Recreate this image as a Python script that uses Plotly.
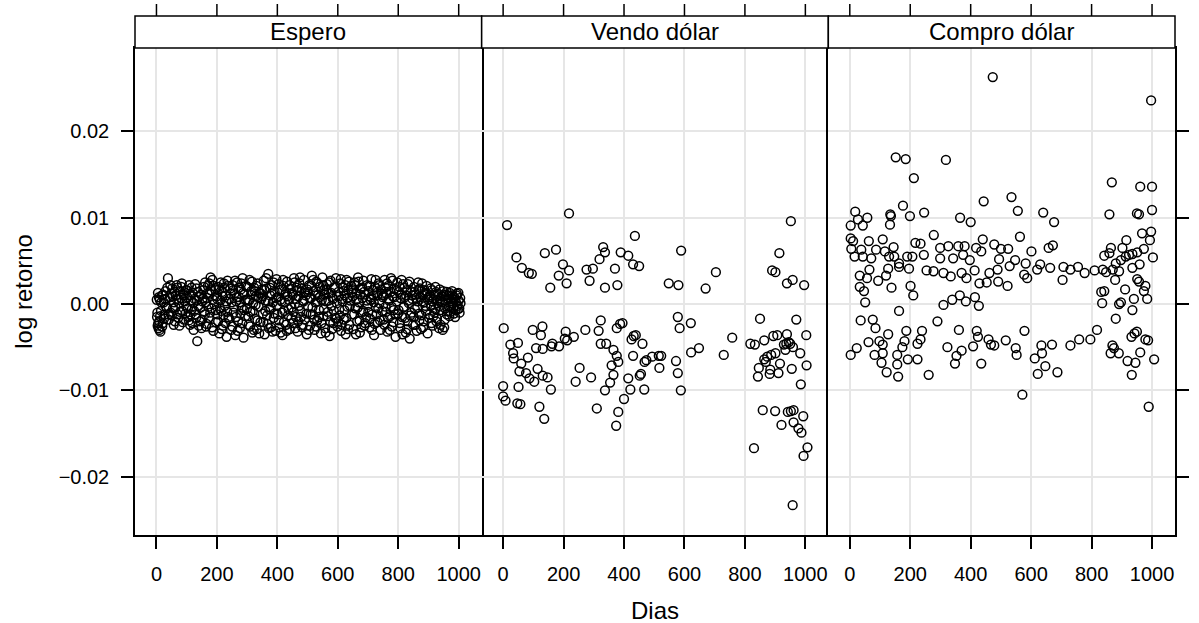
import plotly.graph_objects as go
from plotly.subplots import make_subplots

panel_names = ["Espero", "Vendo dólar", "Compro dólar"]
x_ticks = [0, 200, 400, 600, 800, 1000]
y_ticks = [-0.02, -0.01, 0.0, 0.01, 0.02]
y_tick_labels = ["\u22120.02", "\u22120.01", "0.00", "0.01", "0.02"]
x_title = "Dias"
y_title = "log retorno"

espero_x_a = [2,4,5,7,9,11,13,15,18,21,24,27,30,34,38,41,44,47,49,
    52,55,58,61,64,67,70,73,76,79,82,85,88,91,94,97,99,
    102,105,108,111,114,117,120,123,126,129,132,135,138,141,144,147,149,
    152,155,158,161,164,167,170,173,176,179,182,185,188,191,194,197,199,
    202,205,208,211,214,217,220,223,226,229,232,235,238,241,244,247,249,
    252,255,258,261,264,267,270,273,276,279,282,285,288,291,294,297,299,
    302,305,308,311,314,317,320,323,326,329,332,335,338,341,344,347,349,
    352,355,358,361,364,367,370,373,376,379,382,385,388,391,394,397,399,
    402,405,408,411,414,417,420,423,426,429,432,435,438,441,444,447,449,
    452,455,458,461,464,467,470,473,476,479,482,485,488,491,494,497,499,
    502,505,508,511,514,517,520,523,526,529,532,535,538,541,544,547,549,
    552,555,558,561,564,567,570,573,576,579,582,585,588,591,594,597,599,
    602,605,608,611,614,617,620,623,626,629,632,635,638,641,644,647,649,
    652,655,658,661,664,667,670,673,676,679,682,685,688,691,694,697,699,
    702,705,708,711,714,717,720,723,726,729,732,735,738,741,744,747,749,
    752,755,758,761,764,767,770,773,776,779,782,785,788,791,794,797,799,
    802,805,808,811,814,817,820,823,826,829,832,835,838,841,844,847,849,
    852,855,858,861,864,867,870,873,876,879,882,885,888,891,894,897,899,
    902,905,908,911,914,917,920,923,926,929,932,935,938,941,944,947,949,
    952,955,958,961,964,967,970,973,976,979,982,985,988,991,994,997,1000,1003,1006]
espero_y_a = [-0.0015,-0.0025,0.0013,-0.0028,-0.0020,0.0005,-0.0032,-0.0008,0.0010,-0.0022,0.0002,-0.0012,0.0015,-0.0005,0.0030,-0.0018,0.0008,-0.0010,0.0012,
    0.0018,-0.0005,0.0002,-0.0020,0.0010,0.0022,-0.0012,0.0005,-0.0025,0.0015,0.0020,-0.0008,0.0012,-0.0018,0.0003,0.0016,-0.0003,
    0.0008,-0.0015,0.0022,-0.0024,0.0004,-0.0006,0.0013,-0.0030,0.0006,-0.0012,0.0018,-0.0043,-0.0002,0.0009,-0.0020,0.0011,-0.0028,
    0.0003,0.0016,-0.0009,0.0025,-0.0026,0.0007,0.0021,-0.0016,0.0012,0.0031,-0.0005,0.0028,-0.0031,0.0000,0.0017,-0.0021,0.0009,
    -0.0012,0.0020,-0.0034,0.0004,-0.0008,0.0014,-0.0025,0.0024,-0.0002,0.0010,-0.0038,0.0027,-0.0015,0.0006,0.0018,-0.0030,0.0002,
    0.0022,-0.0010,0.0012,-0.0036,0.0003,0.0025,-0.0020,0.0008,-0.0028,0.0017,-0.0004,0.0030,-0.0039,0.0011,-0.0014,0.0021,-0.0006,
    0.0005,-0.0024,0.0028,-0.0009,0.0015,-0.0033,0.0001,0.0019,-0.0017,0.0009,-0.0029,0.0024,-0.0003,0.0013,-0.0021,0.0006,0.0017,
    -0.0011,0.0027,-0.0035,0.0004,0.0018,-0.0023,0.0035,-0.0006,0.0010,-0.0027,0.0022,0.0002,-0.0016,0.0014,-0.0031,0.0029,-0.0001,
    0.0008,-0.0019,0.0016,-0.0033,0.0003,-0.0036,0.0021,-0.0008,0.0011,-0.0024,0.0026,-0.0013,0.0005,-0.0029,0.0018,-0.0004,0.0013,
    -0.0022,0.0030,0.0000,-0.0015,0.0019,-0.0032,0.0009,0.0024,-0.0008,0.0014,-0.0027,0.0004,0.0028,-0.0018,0.0010,-0.0035,0.0017,
    -0.0003,0.0022,-0.0025,0.0007,0.0033,-0.0012,0.0015,-0.0030,0.0002,0.0026,-0.0019,0.0011,-0.0007,0.0020,-0.0034,0.0005,0.0031,
    -0.0014,0.0016,-0.0028,0.0003,0.0023,-0.0009,0.0012,-0.0037,0.0027,-0.0002,0.0008,-0.0022,0.0019,-0.0016,0.0030,0.0001,-0.0026,
    0.0014,-0.0006,0.0024,-0.0031,0.0006,0.0019,-0.0018,0.0010,-0.0035,0.0028,-0.0003,0.0016,-0.0024,0.0004,0.0021,-0.0012,0.0009,
    -0.0029,0.0025,-0.0005,0.0013,-0.0020,0.0031,0.0002,-0.0033,0.0018,-0.0010,0.0007,0.0027,-0.0025,0.0011,-0.0015,0.0022,-0.0001,
    0.0015,-0.0027,0.0005,0.0029,-0.0012,0.0010,-0.0036,0.0020,-0.0004,0.0013,-0.0021,0.0024,0.0001,-0.0030,0.0017,-0.0008,0.0008,
    -0.0018,0.0028,-0.0003,0.0012,-0.0032,0.0021,0.0004,-0.0014,0.0030,-0.0026,0.0009,-0.0007,0.0018,-0.0038,0.0003,0.0025,-0.0011,
    0.0014,-0.0022,0.0007,0.0028,-0.0035,-0.0004,0.0019,-0.0016,0.0010,-0.0029,0.0023,0.0001,-0.0040,0.0015,-0.0010,0.0006,-0.0024,
    0.0020,-0.0006,0.0011,-0.0031,0.0003,0.0017,-0.0019,0.0008,-0.0013,0.0024,-0.0027,0.0002,0.0013,-0.0008,0.0021,-0.0034,0.0005,
    -0.0016,0.0010,-0.0002,0.0016,-0.0025,0.0006,-0.0010,0.0020,-0.0020,0.0001,0.0012,-0.0028,0.0004,-0.0007,0.0009,-0.0030,0.0015,
    -0.0027,-0.0005,0.0011,-0.0012,0.0006,-0.0002,0.0013,-0.0009,0.0003,0.0010,-0.0004,0.0008,-0.0015,0.0002,0.0012,-0.0006,0.0004,-0.0010,0.0001]

espero_x_b = [1,3,6,8,10,12,16,19,22,25,29,32,36,40,46,
    51,54,57,60,63,66,69,72,75,78,81,84,87,90,96,
    101,104,107,110,113,116,119,122,125,128,131,134,137,140,146,
    151,154,157,160,163,166,169,172,175,178,181,184,187,190,196,
    201,204,207,210,213,216,219,222,225,228,231,234,237,240,246,
    251,254,257,260,263,266,269,272,275,278,281,284,287,290,296,
    301,304,307,310,313,316,319,322,325,328,331,334,337,340,346,
    351,354,357,360,363,366,369,372,375,378,381,384,387,390,396,
    401,404,407,410,413,416,419,422,425,428,431,434,437,440,446,
    451,454,457,460,463,466,469,472,475,478,481,484,487,490,496,
    501,504,507,510,513,516,519,522,525,528,531,534,537,540,546,
    551,554,557,560,563,566,569,572,575,578,581,584,587,590,596,
    601,604,607,610,613,616,619,622,625,628,631,634,637,640,646,
    651,654,657,660,663,666,669,672,675,678,681,684,687,690,696,
    701,704,707,710,713,716,719,722,725,728,731,734,737,740,746,
    751,754,757,760,763,766,769,772,775,778,781,784,787,790,796,
    801,804,807,810,813,816,819,822,825,828,831,834,837,840,846,
    851,854,857,860,863,866,869,872,875,878,881,884,887,890,896,
    901,904,907,910,913,916,919,922,925,928,931,934,937,940,946,
    951,954,957,960,963,966,969,972,975,978,981,984,987,990,993,996,999,1002,1005]
espero_y_b = [0.0005,-0.0010,-0.0022,0.0008,-0.0030,-0.0014,0.0002,-0.0026,0.0011,-0.0017,0.0006,-0.0003,0.0019,-0.0012,0.0022,
    -0.0013,0.0009,-0.0024,0.0014,-0.0004,0.0006,0.0019,-0.0016,0.0001,-0.0009,0.0007,0.0024,-0.0021,0.0010,-0.0011,
    0.0016,-0.0005,-0.0019,0.0010,-0.0012,0.0019,-0.0022,0.0001,-0.0008,0.0023,-0.0016,0.0004,0.0014,-0.0025,-0.0004,
    -0.0018,0.0007,0.0020,-0.0012,0.0002,-0.0023,0.0013,-0.0003,0.0024,-0.0010,0.0016,-0.0027,0.0005,0.0021,-0.0007,
    0.0006,-0.0020,0.0017,-0.0005,0.0025,-0.0029,0.0009,-0.0013,0.0019,-0.0022,0.0003,-0.0009,0.0021,-0.0017,0.0012,
    -0.0026,0.0016,-0.0003,0.0027,-0.0015,0.0008,-0.0031,0.0019,0.0002,-0.0011,0.0024,-0.0022,0.0013,-0.0007,0.0005,
    0.0020,-0.0014,0.0004,-0.0026,0.0011,0.0026,-0.0008,-0.0030,0.0015,-0.0001,0.0021,-0.0019,0.0008,-0.0034,0.0012,
    0.0009,-0.0021,0.0016,-0.0008,0.0030,-0.0013,0.0003,-0.0028,0.0019,-0.0004,0.0012,-0.0032,0.0025,-0.0011,0.0007,
    -0.0012,0.0023,-0.0027,0.0005,0.0017,-0.0010,0.0028,-0.0021,0.0002,0.0014,-0.0031,0.0009,-0.0006,0.0022,-0.0017,
    0.0011,-0.0009,0.0025,-0.0028,0.0006,0.0016,-0.0020,-0.0002,0.0031,-0.0015,0.0018,-0.0024,0.0003,0.0013,-0.0011,
    0.0014,-0.0030,0.0007,-0.0012,0.0021,-0.0004,0.0028,-0.0018,0.0010,-0.0026,0.0003,0.0024,-0.0015,0.0008,-0.0022,
    0.0022,-0.0006,0.0011,-0.0033,0.0017,-0.0014,0.0004,0.0025,-0.0021,0.0013,-0.0029,0.0006,-0.0008,0.0020,-0.0017,
    -0.0020,0.0009,-0.0013,0.0029,-0.0024,0.0003,0.0015,-0.0007,0.0022,-0.0016,0.0007,-0.0029,0.0026,-0.0002,0.0013,
    0.0017,-0.0012,0.0022,-0.0035,0.0006,-0.0004,0.0026,-0.0019,0.0011,-0.0027,0.0019,-0.0008,0.0014,-0.0022,0.0004,
    -0.0009,0.0021,-0.0017,0.0008,-0.0030,0.0016,0.0002,-0.0023,0.0028,-0.0012,0.0010,-0.0005,0.0022,-0.0019,0.0012,
    0.0010,-0.0024,0.0019,-0.0009,0.0024,-0.0016,0.0006,-0.0030,0.0014,-0.0003,0.0027,-0.0021,0.0008,-0.0012,0.0016,
    -0.0007,0.0020,-0.0028,0.0011,-0.0015,0.0023,-0.0003,0.0008,-0.0033,0.0016,-0.0020,0.0004,0.0026,-0.0013,0.0010,
    -0.0015,0.0014,-0.0024,0.0007,-0.0004,0.0025,-0.0011,0.0018,-0.0029,0.0003,0.0010,-0.0020,0.0016,-0.0002,0.0012,
    0.0008,-0.0012,0.0018,-0.0022,0.0003,-0.0014,0.0011,-0.0006,0.0014,-0.0017,0.0005,-0.0003,0.0017,-0.0024,0.0002,
    0.0009,-0.0018,0.0004,0.0014,-0.0008,0.0010,-0.0014,0.0006,-0.0003,0.0015,0.0001,-0.0011,0.0005,-0.0007,0.0010,-0.0002,0.0013,-0.0005,0.0007]

vendo_x = [13,218,436,44,62,85,95,138,175,198,218,184,210,156,276,297,286,319,331,337,370,337,378,389,414,430,450,
    589,548,580,670,704,952,914,890,901,939,958,996,
    2,98,130,125,24,49,33,35,60,82,109,131,160,163,185,207,204,212,234,
    54,76,87,114,103,131,147,158,51,0,0,8,47,57,120,136,
    253,240,291,272,316,323,323,341,365,376,381,359,365,354,337,310,381,400,374,
    376,387,395,414,421,430,425,432,439,461,468,474,456,452,467,493,
    515,523,517,578,584,621,622,648,572,578,588,758,730,
    850,970,1003,818,833,864,894,907,939,929,937,945,950,959,934,901,887,874,864,869,916,983,1004,
    846,843,882,884,911,955,985,859,900,942,952,961,993,961,921,977,987,830,1007,994,958]
vendo_y = [0.00915,0.0105,0.0079,0.0054,0.0042,0.0036,0.0035,0.0059,0.0063,0.0046,0.0039,0.0033,0.0024,0.0019,0.0040,0.0041,0.0027,0.0052,0.0066,0.0060,0.0041,0.0019,0.0022,0.0060,0.0056,0.0046,0.0044,
    0.0062,0.0024,0.0022,0.0018,0.0037,0.0096,0.0059,0.0039,0.0037,0.0024,0.0028,0.0022,
    -0.0028,-0.0030,-0.0026,-0.0036,-0.0047,-0.0045,-0.0057,-0.0063,-0.0069,-0.0062,-0.0051,-0.0052,-0.0049,-0.0046,-0.0049,-0.0032,-0.0040,-0.0042,-0.0038,
    -0.0078,-0.0080,-0.0086,-0.0075,-0.0090,-0.0083,-0.0085,-0.0099,-0.0096,-0.0095,-0.0107,-0.0112,-0.0115,-0.0116,-0.0119,-0.0133,
    -0.0074,-0.0090,-0.0085,-0.0030,-0.0031,-0.0019,-0.0046,-0.0046,-0.0053,-0.0060,-0.0067,-0.0071,-0.0082,-0.0091,-0.0100,-0.0121,-0.0125,-0.0110,-0.0141,
    -0.0028,-0.0023,-0.0022,-0.0086,-0.0099,-0.0060,-0.0041,-0.0037,-0.0036,-0.0046,-0.0067,-0.0065,-0.0081,-0.0083,-0.0099,-0.0061,
    -0.0060,-0.0060,-0.0074,-0.0015,-0.0028,-0.0022,-0.0056,-0.0051,-0.0066,-0.0080,-0.0100,-0.0039,-0.0059,
    -0.0017,-0.0018,-0.0036,-0.0046,-0.0047,-0.0042,-0.0037,-0.0036,-0.0035,-0.0047,-0.0046,-0.0044,-0.0046,-0.0050,-0.0053,-0.0057,-0.0059,-0.0061,-0.0064,-0.0067,-0.0069,-0.0057,-0.0071,
    -0.0074,-0.0084,-0.0081,-0.0076,-0.0080,-0.0075,-0.0093,-0.0123,-0.0124,-0.0125,-0.0124,-0.0123,-0.0130,-0.0137,-0.0140,-0.0144,-0.0149,-0.0167,-0.0166,-0.0176,-0.0233]

compro_x = [473,152,185,318,212,443,176,18,3,27,43,58,134,136,133,199,246,365,400,278,
    3,11,5,16,38,43,63,71,87,109,116,145,130,147,163,190,207,217,234,245,299,299,326,342,359,380,375,397,418,440,435,478,
    33,57,65,94,127,120,138,163,196,201,210,33,47,51,254,277,310,334,370,386,413,429,453,462,489,
    310,339,364,384,414,427,163,
    36,76,85,187,239,290,361,420,127,62,98,109,181,224,234,459,467,424,23,3,82,109,157,174,192,224,323,370,408,353,348,105,157,122,435,160,261,
    997,867,961,1000,535,556,640,676,859,950,957,1000,563,915,967,997,993,1003,973,951,935,913,897,880,891,870,848,837,864,842,859,902,924,959,935,951,957,978,973,984,940,911,878,842,832,835,891,897,935,880,
    810,777,755,730,707,704,663,658,672,630,620,601,582,577,587,547,529,524,500,494,491,522,
    516,549,552,578,478,634,636,612,647,622,669,687,730,759,796,818,869,863,890,874,919,932,950,942,961,945,933,978,987,1007,571,989]
compro_y = [0.0263,0.0170,0.0168,0.0167,0.0146,0.0119,0.0114,0.0107,0.0091,0.0098,0.0091,0.0100,0.0104,0.0102,0.0092,0.0102,0.0106,0.0100,0.0095,0.0080,
    0.0076,0.0073,0.0064,0.0055,0.0063,0.0055,0.0073,0.0053,0.0063,0.0075,0.0061,0.0066,0.0055,0.0055,0.0047,0.0055,0.0055,0.0071,0.0070,0.0057,0.0065,0.0053,0.0067,0.0053,0.0067,0.0067,0.0057,0.0051,0.0065,0.0075,0.0061,0.0069,
    0.0033,0.0030,0.0040,0.0027,0.0041,0.0033,0.0019,0.0043,0.0041,0.0021,0.0010,0.0020,0.0015,0.0002,0.0039,0.0038,0.0036,0.0032,0.0036,0.0030,0.0039,0.0024,0.0025,0.0036,0.0040,
    -0.0001,0.0005,0.0010,0.0003,0.0008,-0.0002,-0.0008,
    -0.0019,-0.0018,-0.0028,-0.0031,-0.0031,-0.0020,-0.0030,-0.0031,-0.0035,-0.0044,-0.0043,-0.0047,-0.0043,-0.0046,-0.0041,-0.0041,-0.0047,-0.0038,-0.0051,-0.0059,-0.0059,-0.0057,-0.0059,-0.0050,-0.0064,-0.0064,-0.0050,-0.0054,-0.0049,-0.0060,-0.0069,-0.0068,-0.0070,-0.0079,-0.0069,-0.0084,-0.0082,
    0.0236,0.0141,0.0136,0.0136,0.0124,0.0108,0.0106,0.0095,0.0104,0.0105,0.0104,0.0109,0.0078,0.0074,0.0082,0.0084,0.0074,0.0054,0.0064,0.0060,0.0058,0.0055,0.0051,0.0047,0.0038,0.0040,0.0037,0.0040,0.0065,0.0056,0.0059,0.0065,0.0057,0.0046,0.0042,0.0029,0.0026,0.0021,0.0015,0.0006,0.0006,0.0017,0.0028,0.0015,0.0014,0.0001,0.0000,0.0002,-0.0007,-0.0017,
    0.0039,0.0036,0.0043,0.0040,0.0043,0.0028,0.0042,0.0065,0.0068,0.0046,0.0040,0.0061,0.0047,0.0034,0.0030,0.0051,0.0044,0.0064,0.0064,0.0052,0.0026,0.0021,
    -0.0042,-0.0051,-0.0059,-0.0031,-0.0048,-0.0048,-0.0057,-0.0063,-0.0072,-0.0081,-0.0047,-0.0079,-0.0048,-0.0041,-0.0041,-0.0030,-0.0048,-0.0057,-0.0057,-0.0051,-0.0066,-0.0038,-0.0032,-0.0034,-0.0056,-0.0068,-0.0082,-0.0041,-0.0042,-0.0064,-0.0105,-0.0119]

series = [(espero_x_a + espero_x_b, espero_y_a + espero_y_b),
          (vendo_x, vendo_y), (compro_x, compro_y)]

x_range = [-71, 1076]
y_range = [-0.02676, 0.02967]

FONT = "Liberation Sans, Arial, Helvetica, sans-serif"
LINE_W = 1.5
GRID_C = "#E6E6E6"
FIG_W, FIG_H = 1199, 623
M_L, M_R, M_T, M_B = 135, 12, 48, 88

fig = make_subplots(rows=1, cols=3, horizontal_spacing=0)

for i, (xs, ys) in enumerate(series, start=1):
    fig.add_trace(go.Scatter(
        x=xs, y=ys, mode="markers",
        marker=dict(symbol="circle-open", size=8.8, color="black",
                    line=dict(width=1.5, color="black")),
        showlegend=False, hoverinfo="x+y"), row=1, col=i)
    fig.update_xaxes(
        range=x_range, tickvals=x_ticks, ticks="outside", ticklen=12,
        tickwidth=LINE_W, tickcolor="black", showline=True, linecolor="black",
        linewidth=LINE_W, mirror=True, showgrid=True, gridcolor=GRID_C,
        gridwidth=1.5, zeroline=False, tickfont=dict(size=20, color="black"),
        ticklabelstandoff=8, row=1, col=i)
    yopts = dict(range=y_range, tickvals=y_ticks, ticktext=y_tick_labels,
                 linecolor="black", linewidth=LINE_W, mirror=True,
                 showgrid=True, gridcolor=GRID_C, gridwidth=1.5, zeroline=False,
                 tickfont=dict(size=20, color="black"), tickwidth=LINE_W,
                 tickcolor="black", ticklen=12)
    if i == 1:
        yopts.update(ticks="outside", showticklabels=True, ticklabelstandoff=8,
                     showline=True)
    elif i == 3:
        yopts.update(ticks="outside", showticklabels=False, side="right",
                     showline=True)
    else:
        yopts.update(ticks="", showticklabels=False, showline=False)
    fig.update_yaxes(row=1, col=i, **yopts)

plot_h = FIG_H - M_T - M_B
plot_w = FIG_W - M_L - M_R
strip_h = 32 / plot_h
tick_h = 12 / plot_h

shapes = []
annotations = []
for i, name in enumerate(panel_names, start=1):
    xa = "xaxis" if i == 1 else f"xaxis{i}"
    d0, d1 = fig.layout[xa].domain
    shapes.append(dict(type="rect", xref="paper", yref="paper",
                       x0=d0, x1=d1, y0=1, y1=1 + strip_h,
                       fillcolor="white", line=dict(color="black", width=LINE_W)))
    annotations.append(dict(text=name, xref="paper", yref="paper",
                            x=(d0 + d1) / 2, y=1 + strip_h / 2,
                            xanchor="center", yanchor="middle", showarrow=False,
                            font=dict(size=24, color="black", family=FONT)))
    xr = "x" if i == 1 else f"x{i}"
    for t in x_ticks:
        shapes.append(dict(type="line", xref=xr, yref="paper", x0=t, x1=t,
                           y0=1 + strip_h, y1=1 + strip_h + tick_h,
                           line=dict(color="black", width=LINE_W)))

annotations.append(dict(text=x_title, xref="paper", yref="paper",
                        x=0.5, y=-(610 - (FIG_H - M_B)) / plot_h, xanchor="center",
                        yanchor="middle", showarrow=False,
                        font=dict(size=24, color="black", family=FONT)))
annotations.append(dict(text=y_title, xref="paper", yref="paper",
                        x=-(M_L - 22) / plot_w, y=0.5, xanchor="center",
                        yanchor="middle", textangle=-90, showarrow=False,
                        font=dict(size=24, color="black", family=FONT)))

# initial size leaves room for the page's default 8px body margin so nothing
# overflows; the post script removes the margin and restores the full size.
fig.update_layout(
    width=FIG_W - 16, height=FIG_H - 16,
    margin=dict(l=M_L, r=M_R, t=M_T, b=M_B),
    paper_bgcolor="white", plot_bgcolor="white",
    font=dict(family=FONT, color="black"),
    shapes=shapes, annotations=annotations,
)

post = (
    "document.body.style.margin='0';"
    "document.body.style.overflow='hidden';"
    "var gd=document.getElementById('{plot_id}');"
    "gd.style.width='%dpx';gd.style.height='%dpx';"
    "Plotly.relayout(gd,{width:%d,height:%d});" % (FIG_W, FIG_H, FIG_W, FIG_H)
)

fig.write_html("out.html", config={"displayModeBar": False}, post_script=post)
